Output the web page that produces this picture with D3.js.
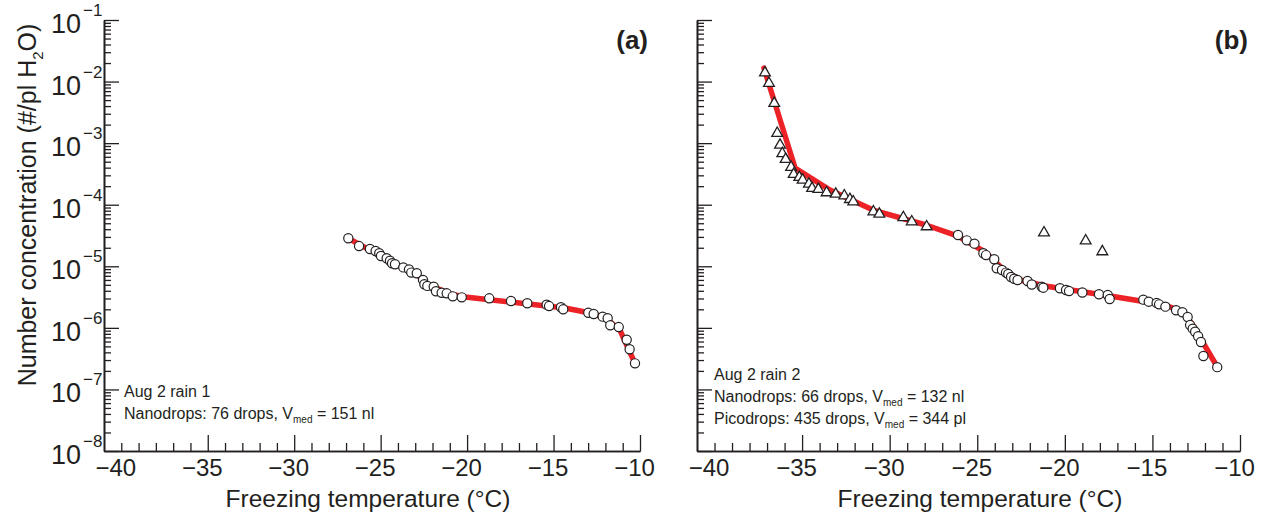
<!DOCTYPE html>
<html>
<head>
<meta charset="utf-8">
<script src="https://cdn.jsdelivr.net/npm/d3@7"></script>
<style>
  html, body { margin: 0; padding: 0; background: #fff; }
  svg text { font-family: "Liberation Sans", Arial, Helvetica, sans-serif; fill: #231f20; }
</style>
</head>
<body>
<svg id="chart" width="1270" height="520"></svg>
<script>
// ---------- Data ----------
// Panel (a): Aug 2 rain 1, nanodrops (circles)
const aNanoT = [-26.87,-26.25,-25.62,-25.29,-25.08,-24.98,-24.65,-24.46,-24.34,-24.17,-23.69,-23.36,-23.23,-22.91,-22.55,-22.47,-22.30,-21.93,-21.80,-21.47,-21.18,-20.83,-20.31,-18.72,-17.46,-16.52,-15.40,-15.26,-14.57,-14.44,-12.99,-12.68,-12.16,-11.87,-11.72,-11.23,-10.77,-10.60,-10.29];
const aNanoN = [2.85e-5,2.13e-5,1.91e-5,1.77e-5,1.63e-5,1.47e-5,1.35e-5,1.23e-5,1.12e-5,1.08e-5,9.6e-6,8.9e-6,7.9e-6,7.7e-6,6.0e-6,5.1e-6,4.8e-6,4.66e-6,3.93e-6,3.72e-6,3.64e-6,3.25e-6,3.13e-6,3.02e-6,2.73e-6,2.51e-6,2.38e-6,2.26e-6,2.16e-6,2.00e-6,1.76e-6,1.68e-6,1.52e-6,1.43e-6,1.10e-6,1.03e-6,6.4e-7,4.5e-7,2.65e-7];
// Panel (a) fitted curve
const aFitT = [-26.89,-24.17,-22.95,-22.43,-20.99,-20.12,-14.34,-12.60,-11.85,-11.16,-10.29];
const aFitN = [2.87e-5,1.09e-5,7.8e-6,5.35e-6,3.55e-6,3.17e-6,2.10e-6,1.68e-6,1.34e-6,9.2e-7,2.65e-7];

// Panel (b): Aug 2 rain 2, picodrops (triangles)
const bPicoT = [-37.12,-36.89,-36.59,-36.42,-36.26,-36.13,-35.94,-35.63,-35.48,-35.16,-34.97,-34.61,-34.43,-34.07,-33.60,-33.08,-32.59,-32.27,-32.08,-30.93,-30.59,-29.22,-28.74,-27.89,-21.19,-18.81,-17.86];
const bPicoN = [1.39e-2,9.4e-3,4.44e-3,1.45e-3,9.3e-4,6.8e-4,5.47e-4,4.06e-4,3.12e-4,2.79e-4,2.52e-4,2.17e-4,1.85e-4,1.78e-4,1.57e-4,1.49e-4,1.40e-4,1.22e-4,1.12e-4,7.7e-5,7.06e-5,6.2e-5,5.3e-5,4.4e-5,3.51e-5,2.60e-5,1.73e-5];
// Panel (b): nanodrops (circles)
const bNanoT = [-26.10,-25.60,-25.16,-24.65,-24.50,-24.03,-23.89,-23.59,-23.36,-23.23,-23.07,-22.89,-22.70,-22.13,-21.89,-21.32,-21.23,-20.28,-19.93,-19.76,-19.00,-18.05,-17.55,-17.44,-15.52,-15.21,-14.76,-14.62,-14.26,-13.65,-13.29,-12.99,-12.85,-12.70,-12.56,-12.39,-12.23,-12.09,-11.30];
const bNanoN = [3.22e-5,2.64e-5,2.33e-5,1.63e-5,1.52e-5,1.30e-5,9.3e-6,8.7e-6,7.9e-6,7.5e-6,6.7e-6,6.28e-6,5.98e-6,5.77e-6,5.06e-6,4.66e-6,4.49e-6,4.39e-6,4.12e-6,3.96e-6,3.75e-6,3.51e-6,3.42e-6,2.94e-6,2.87e-6,2.66e-6,2.54e-6,2.41e-6,2.21e-6,1.93e-6,1.79e-6,1.50e-6,1.11e-6,9.7e-7,8.65e-7,7.3e-7,5.9e-7,3.49e-7,2.30e-7];
// Panel (b) fitted curve
const bFitT = [-37.18,-35.40,-33.41,-30.95,-27.93,-26.10,-24.56,-23.42,-22.56,-21.13,-17.42,-14.28,-13.25,-12.74,-11.26];
const bFitN = [1.66e-2,3.95e-4,1.73e-4,8.2e-5,4.68e-5,3.10e-5,1.71e-5,8.4e-6,5.98e-6,4.79e-6,3.29e-6,2.35e-6,1.81e-6,1.16e-6,2.23e-7];

// Axis ticks / labels
const xMajorTicks = [-40,-35,-30,-25,-20,-15,-10];
const yDecades = [-8,-7,-6,-5,-4,-3,-2,-1];
const panelLabels = ["(a)", "(b)"];
const xTitle = "Freezing temperature (°C)";
const annA = ["Aug 2 rain 1"];
const annANano = ["Nanodrops: 76 drops, V", "med", " = 151 nl"];
const annB = ["Aug 2 rain 2"];
const annBNano = ["Nanodrops: 66 drops, V", "med", " = 132 nl"];
const annBPico = ["Picodrops: 435 drops, V", "med", " = 344 pl"];

// ---------- Drawing ----------
const svg = d3.select("#chart");
const yTop = 20, yBot = 451;
const RED = "#ec2227";
const INK = "#231f20";

const y = d3.scaleLog().domain([1e-8, 1e-1]).range([yBot, yTop]);

const yMajor = yDecades.map(e => Math.pow(10, e));
const yMinor = [];
for (let e = -8; e < -1; e++) for (let m = 2; m <= 9; m++) yMinor.push(m * Math.pow(10, e));
const xMinorAll = d3.range(-40, -10, 1).filter(v => v % 5 !== 0 || v === -40);
const xMajorLong = xMajorTicks.filter(v => v !== -40);

function panel(opts) {
  const x = d3.scaleLinear().domain([-41, -10]).range([opts.x0, opts.x1]);
  const g = svg.append("g");

  // y axis: minor and major ticks pointing inward
  const yAxMinor = d3.axisRight(y).tickValues(yMinor).tickSizeInner(7).tickSizeOuter(0).tickFormat("");
  const yAxMajor = d3.axisRight(y).tickValues(yMajor).tickSizeInner(15).tickSizeOuter(0).tickFormat("");
  [yAxMinor, yAxMajor].forEach(ax => {
    const ga = g.append("g").attr("transform", `translate(${opts.x0},0)`).call(ax);
    ga.selectAll("path.domain").attr("stroke", INK).attr("stroke-width", 1.6);
    ga.selectAll(".tick line").attr("stroke", INK).attr("stroke-width", 1.3);
  });

  // x axis: ticks inward (upwards)
  const xAxMinor = d3.axisBottom(x).tickValues(xMinorAll).tickSizeInner(-8).tickSizeOuter(0).tickFormat("");
  const xAxMajor = d3.axisBottom(x).tickValues(xMajorLong).tickSizeInner(-16).tickSizeOuter(0).tickFormat("");
  [xAxMinor, xAxMajor].forEach(ax => {
    const ga = g.append("g").attr("transform", `translate(0,${yBot})`).call(ax);
    ga.selectAll("path.domain").attr("stroke", INK).attr("stroke-width", 1.6);
    ga.selectAll(".tick line").attr("stroke", INK).attr("stroke-width", 1.3);
  });
  // x tick labels
  const xLab = d3.axisBottom(x).tickValues(xMajorTicks).tickSize(0).tickPadding(8).tickFormat(d3.format("d"));
  const gl = g.append("g").attr("transform", `translate(-6,${yBot})`).call(xLab);
  gl.select("path.domain").remove();
  gl.selectAll("text").attr("font-size", 24).attr("fill", INK)
    .attr("font-family", "Liberation Sans, Arial, sans-serif");

  // x title
  g.append("text").attr("x", opts.titleX).attr("y", 507)
    .attr("text-anchor", "middle").attr("font-size", 24.5).text(xTitle);

  // y tick labels (only for left panel)
  if (opts.yLabels) {
    yDecades.forEach(e => {
      const yy = y(Math.pow(10, e));
      g.append("text").attr("x", 81).attr("y", yy + 13)
        .attr("text-anchor", "end").attr("font-size", 27).text("10");
      g.append("text").attr("x", 83).attr("y", yy - 4)
        .attr("text-anchor", "start").attr("font-size", 17).text("\u2212" + Math.abs(e));
    });
    const yl = g.append("text").attr("transform", `translate(36,205) rotate(-90)`)
      .attr("text-anchor", "middle").attr("font-size", 25);
    yl.append("tspan").text("Number concentration (#/pl H");
    yl.append("tspan").attr("font-size", 15).attr("dy", 7).text("2");
    yl.append("tspan").attr("dy", -7).text("O)");
  }

  // fitted line
  const line = d3.line().x(d => x(d[0])).y(d => y(d[1]));
  g.append("path").datum(d3.zip(opts.fitT, opts.fitN)).attr("d", line)
    .attr("fill", "none").attr("stroke", RED).attr("stroke-width", 5.5)
    .attr("stroke-linejoin", "round").attr("stroke-linecap", "round");

  // triangles
  if (opts.triT) {
    const sym = d3.symbol().type(d3.symbolTriangle).size(50);
    g.selectAll("path.tri").data(d3.zip(opts.triT, opts.triN)).join("path")
      .attr("class", "tri").attr("d", sym)
      .attr("transform", d => `translate(${x(d[0])},${y(d[1])})`)
      .attr("fill", "#fff").attr("stroke", INK).attr("stroke-width", 1.3);
  }
  // circles
  g.selectAll("circle.nano").data(d3.zip(opts.cirT, opts.cirN)).join("circle")
    .attr("class", "nano").attr("cx", d => x(d[0])).attr("cy", d => y(d[1])).attr("r", 4.6)
    .attr("fill", "#fff").attr("stroke", INK).attr("stroke-width", 1.2);

  // panel label
  g.append("text").attr("x", opts.x1 + 8).attr("y", 49).attr("text-anchor", "end")
    .attr("font-size", 26).attr("font-weight", "bold").text(opts.label);

  // annotations
  const fs = 16;
  opts.ann.forEach((row, i) => {
    const t = g.append("text").attr("x", opts.x0 + opts.annDx).attr("y", opts.annY + i * 22).attr("font-size", fs);
    if (row.length === 1) { t.text(row[0]); }
    else {
      t.append("tspan").text(row[0]);
      t.append("tspan").attr("font-size", 10).attr("dy", 4).text(row[1]);
      t.append("tspan").attr("dy", -4).text(row[2]);
    }
  });
}

panel({ x0: 104, x1: 640, fitT: aFitT, fitN: aFitN, cirT: aNanoT, cirN: aNanoN,
        label: panelLabels[0], yLabels: true, titleX: 368,
        ann: [annA, annANano], annDx: 20, annY: 397 });
panel({ x0: 697, x1: 1240, fitT: bFitT, fitN: bFitN, cirT: bNanoT, cirN: bNanoN,
        triT: bPicoT, triN: bPicoN, label: panelLabels[1], yLabels: false, titleX: 980,
        ann: [annB, annBNano, annBPico], annDx: 17, annY: 380 });
</script>
</body>
</html>
